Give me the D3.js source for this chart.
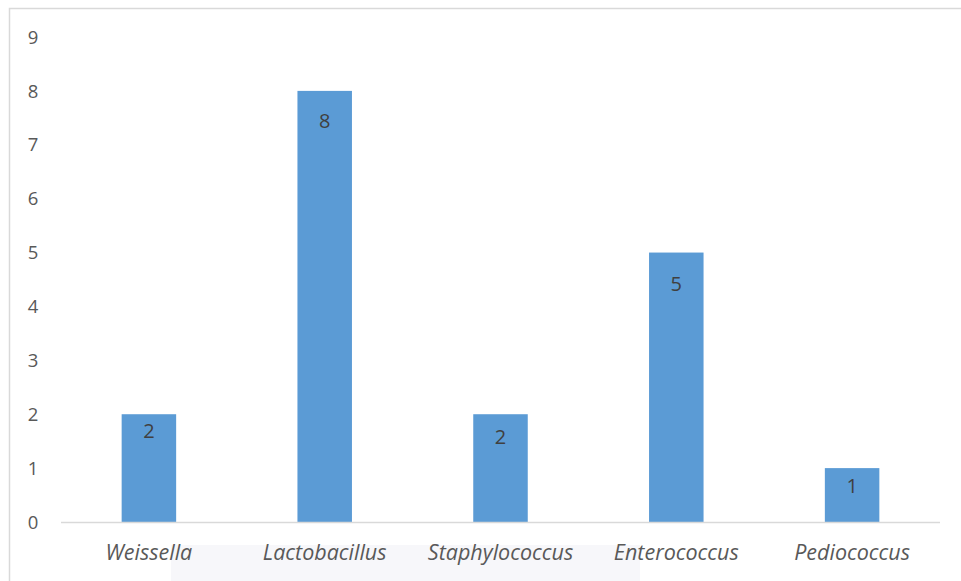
<!DOCTYPE html>
<html><head><meta charset="utf-8">
<script src="https://cdn.jsdelivr.net/npm/d3@7"></script>
<style>body{margin:0;background:#fff}svg{display:block}</style>
</head><body>
<script>
const categories = ["Weissella","Lactobacillus","Staphylococcus","Enterococcus","Pediococcus"];
const values = [2,8,2,5,1];
const yTicks = [0,1,2,3,4,5,6,7,8,9];

// layout: vertical offset of each value label below its bar top (px)
const labelDy = [17,30,23,31,18];

const W = 961, H = 581;
const svg = d3.select("body").append("svg").attr("width",W).attr("height",H);
const font = "'Open Sans', sans-serif";

// faint background watermark band
svg.append("rect").attr("x",171).attr("y",545).attr("width",469).attr("height",40).attr("fill","#f7f7fa");

// chart frame
svg.append("path").attr("d",`M9.5,${H+2} V8.5 H${W+2}`).attr("fill","none").attr("stroke","#d9d9d9").attr("stroke-width",1.5);

const x = d3.scaleBand().domain(categories).range([61,940]).padding(0);
const y = d3.scaleLinear().domain([0,9]).range([522,37]);
const barW = x.bandwidth()*0.31;

svg.append("g").selectAll("rect").data(values).join("rect")
  .attr("x",(d,i)=>x(categories[i])+x.bandwidth()/2-barW/2)
  .attr("y",d=>y(d)).attr("width",barW).attr("height",d=>y(0)-y(d))
  .attr("fill","#5b9bd5");

svg.append("line").attr("x1",61).attr("x2",940).attr("y1",y(0)+0.5).attr("y2",y(0)+0.5)
  .attr("stroke","#d9d9d9").attr("stroke-width",1.5);

svg.append("g").selectAll("text").data(yTicks).join("text")
  .attr("x",33).attr("y",d=>y(d)).attr("dy","0.36em").attr("text-anchor","middle")
  .attr("font-family",font).attr("font-size",18.5).attr("fill","#595959").text(d=>d);

svg.append("g").selectAll("text").data(categories).join("text")
  .attr("x",d=>x(d)+x.bandwidth()/2).attr("y",552).attr("dy","0.36em").attr("text-anchor","middle")
  .attr("font-family",font).attr("font-style","italic").attr("font-size",21.5).attr("fill","#595959").text(d=>d);

svg.append("g").selectAll("text").data(values).join("text")
  .attr("x",(d,i)=>x(categories[i])+x.bandwidth()/2).attr("y",(d,i)=>y(d)+labelDy[i]).attr("dy","0.36em").attr("text-anchor","middle")
  .attr("font-family",font).attr("font-size",20).attr("fill","#404040").text(d=>d);
</script>
</body></html>
